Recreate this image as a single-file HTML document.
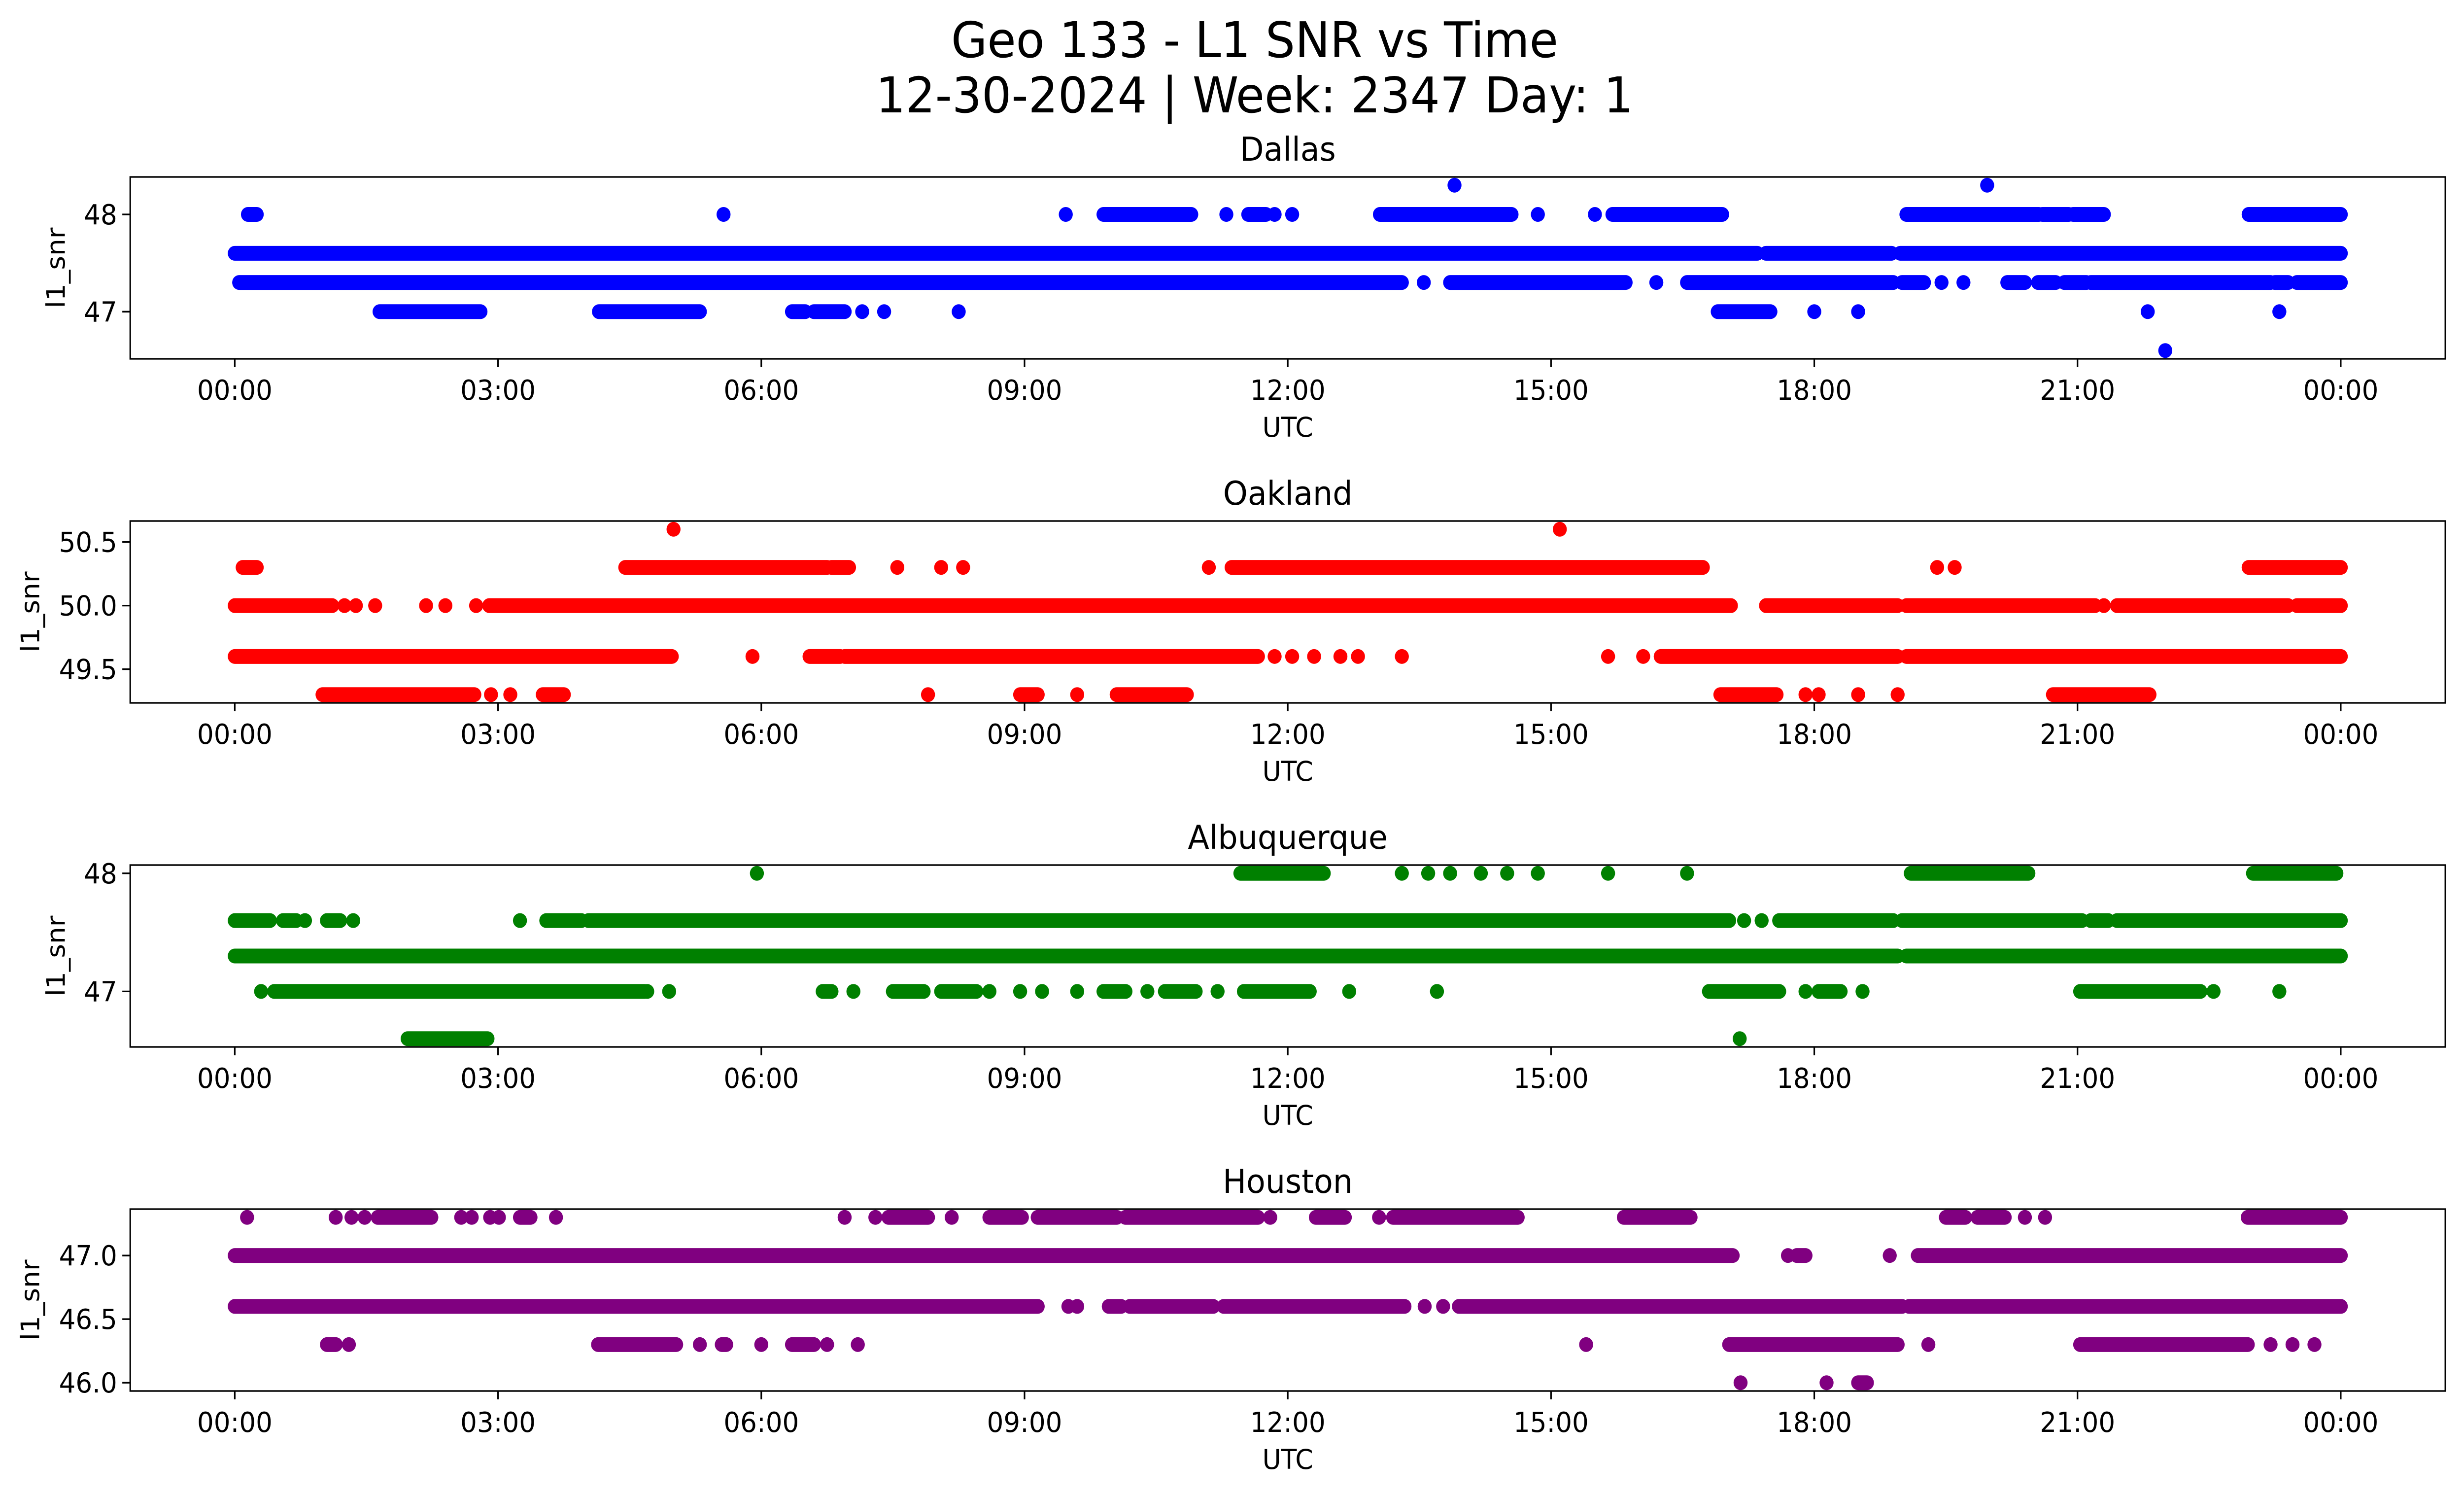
<!DOCTYPE html>
<html><head><meta charset="utf-8"><title>Geo 133 - L1 SNR vs Time</title>
<style>html,body{margin:0;padding:0;background:#fff;overflow:hidden;width:100%;height:100%}svg{display:block;width:100vw;height:100vh}text{font-family:"DejaVu Sans","Liberation Sans",sans-serif;fill:#000}</style>
</head><body>
<svg id="fig" viewBox="0 0 5279 3033" preserveAspectRatio="none" xmlns="http://www.w3.org/2000/svg">
<rect width="5279" height="3033" fill="#fff"/>
<text x="2688" y="116" font-size="100" text-anchor="middle">Geo 133 - L1 SNR vs Time</text>
<text x="2688" y="228" font-size="100" text-anchor="middle">12-30-2024 | Week: 2347 Day: 1</text>
</svg>
<script>
// x tick labels (hours)
const xTickHours = [0,3,6,9,12,15,18,21,24];
const xTickLabels = ["00:00","03:00","06:00","09:00","12:00","15:00","18:00","21:00","00:00"];
// panel definitions
const stationNames = ["Dallas","Oakland","Albuquerque","Houston"];
const stationColors = ["#0000ff","#ff0000","#008000","#800080"];
const yTicksDallas = [47,48];
const yTicksOakland = [49.5,50.0,50.5];
const yTicksAlbuquerque = [47,48];
const yTicksHouston = [46.0,46.5,47.0];
const yTickDigits = [0,1,0,1];
// Each series: level value + runs of time (hours) [start,end] or single time
const dallasLevels = [48.3,48.0,47.6,47.3,47.0,46.6];
const dallasRuns = [
 [13.9,19.97],
 [[0.15,0.25],5.57,9.47,[9.9,10.9],11.3,[11.55,11.75],11.85,12.05,[13.05,14.55],14.85,15.5,[15.7,16.95],[19.05,20.56],[20.6,20.9],[20.95,21.3],[22.95,24]],
 [[0,17.35],[17.45,18.88],[18.98,24]],
 [[0.05,13.3],13.55,[13.85,15.85],16.2,[16.55,18.9],[19.0,19.25],19.45,19.7,[20.2,20.4],[20.55,20.75],[20.85,21.1],[21.15,23.2],[23.25,23.4],[23.5,24]],
 [[1.65,2.8],[4.15,5.3],[6.35,6.5],[6.6,6.95],7.15,7.4,8.25,[16.9,17.5],18.0,18.5,21.8,23.3],
 [22.0]
];
const oaklandLevels = [50.6,50.3,50.0,49.6,49.3];
const oaklandRuns = [
 [5.0,15.1],
 [[0.09,0.25],[4.45,6.75],[6.8,7.0],7.55,8.05,8.3,11.1,[11.36,16.73],19.4,19.6,[22.95,24]],
 [[0,1.11],1.25,1.38,1.6,2.18,2.4,2.75,[2.9,17.05],[17.45,18.95],[19.05,21.2],21.3,[21.45,23.4],[23.5,24]],
 [[0,4.98],5.9,[6.55,6.9],[6.95,11.66],11.85,12.05,12.3,12.6,12.8,13.3,15.65,16.05,[16.25,18.95],[19.05,24]],
 [[1.0,2.73],2.92,3.14,[3.51,3.75],7.9,[8.95,9.15],9.6,[10.05,10.85],[16.93,17.57],17.9,18.05,18.5,18.95,[20.72,21.82]]
];
const albuquerqueLevels = [48.0,47.6,47.3,47.0,46.6];
const albuquerqueRuns = [
 [5.95,[11.46,12.41],13.3,13.6,13.85,14.2,14.5,14.85,15.65,16.55,[19.1,20.44],[23.0,23.95]],
 [[0,0.4],[0.55,0.7],0.8,[1.05,1.2],1.35,3.25,[3.55,3.95],[4.03,17.03],17.2,17.4,[17.6,18.9],[19.0,21.05],[21.15,21.35],[21.45,24]],
 [[0,18.95],[19.05,24]],
 [0.3,[0.45,4.67],4.7,4.95,[6.7,6.8],7.05,[7.5,7.85],[8.05,8.45],8.6,8.95,9.2,9.6,[9.9,10.15],10.4,[10.6,10.95],11.2,[11.5,12.25],12.7,13.7,[16.8,17.6],17.9,[18.05,18.3],18.55,[21.03,22.4],22.55,23.3],
 [[1.97,2.88],17.15]
];
const houstonLevels = [47.3,47.0,46.6,46.3,46.0];
const houstonRuns = [
 [0.14,1.15,1.33,1.48,[1.63,2.24],2.58,2.7,2.91,3.01,[3.25,3.37],3.66,6.95,7.3,[7.45,7.9],8.17,[8.6,8.97],[9.15,10.05],[10.15,11.66],11.8,[12.32,12.65],13.04,[13.2,14.62],[15.83,16.59],[19.5,19.72],[19.86,20.17],20.4,20.63,[22.94,24]],
 [[0,17.07],17.7,[17.8,17.9],18.86,[19.18,24]],
 [[0,9.15],9.5,9.6,[9.96,10.1],[10.2,11.15],[11.27,13.33],13.56,13.77,[13.95,19.0],[19.08,24]],
 [[1.05,1.15],1.3,[4.14,5.03],5.3,[5.55,5.6],6.0,[6.35,6.6],6.75,7.1,15.4,[17.03,18.95],19.3,[21.03,22.94],23.2,23.45,23.7],
 [17.16,18.14,[18.5,18.6]]
];
const allLevels = [dallasLevels,oaklandLevels,albuquerqueLevels,houstonLevels];
const allRuns = [dallasRuns,oaklandRuns,albuquerqueRuns,houstonRuns];
const allYTicks = [yTicksDallas,yTicksOakland,yTicksAlbuquerque,yTicksHouston];

const NS="http://www.w3.org/2000/svg";
const svg=document.getElementById('fig');
const L=279,R=5239,H=369,TOP0=359,STEP=698,X0=503,PXH=188.0,MS=30;
function xs(h){return X0+h*PXH;}
function mk(tag,attrs,parent){const e=document.createElementNS(NS,tag);for(const k in attrs)e.setAttribute(k,attrs[k]);(parent||svg).appendChild(e);return e;}

for(let p=0;p<4;p++){
  const top=TOP0+p*STEP,bot=top+H;
  const levels=allLevels[p],runs=allRuns[p];
  const vmin=Math.min(...levels),vmax=Math.max(...levels),r=vmax-vmin;
  const ymin=vmin-0.05*r,ymax=vmax+0.05*r;
  const ys=v=>top+(ymax-v)/(ymax-ymin)*H;
  const slug=stationNames[p].toLowerCase();
  const g=mk('g',{});
  
  
  const t=mk('text',{x:(L+R)/2,y:top-33,'font-size':67,'text-anchor':'middle'},g);
  t.textContent=stationNames[p];
  
  
  const pts=mk('g',{stroke:stationColors[p],'stroke-width':MS,'stroke-linecap':'round',fill:'none'},g);
  
  
  levels.forEach((lv,i)=>{
    runs[i].forEach(run=>{
      const a=Array.isArray(run)?run[0]:run,b=Array.isArray(run)?run[1]:run;
      const y=ys(lv);
      const ln=mk('line',{x1:xs(a),y1:y,x2:xs(b)+0.01,y2:y},pts);
      
      
    });
  });
  const fr=mk('rect',{x:L,y:top,width:R-L,height:H,fill:'none',stroke:'#000','stroke-width':3.3},g);
  
  
  xTickHours.forEach((h,i)=>{
    const x=xs(h);
    const tk=mk('line',{x1:x,y1:bot,x2:x,y2:bot+17,stroke:'#000','stroke-width':3.3},g);
    
    
    const tl=mk('text',{x:x,y:bot+83,'font-size':56,'text-anchor':'middle'},g);
    tl.textContent=xTickLabels[i];
    
    
  });
  const xl=mk('text',{x:(L+R)/2,y:bot+158,'font-size':55,'text-anchor':'middle'},g);
  xl.textContent='UTC';
  
  
  allYTicks[p].forEach(v=>{
    const y=ys(v);
    const tk=mk('line',{x1:L-17,y1:y,x2:L,y2:y,stroke:'#000','stroke-width':3.3},g);
    
    
    const tl=mk('text',{x:L-28,y:y+20,'font-size':56,'text-anchor':'end'},g);
    tl.textContent=v.toFixed(yTickDigits[p]);
    
    
  });
  const yx=yTickDigits[p]?65:120, yc=top+H/2;
  const yl=mk('text',{x:yx,y:yc,'font-size':55,'text-anchor':'middle','dominant-baseline':'central',transform:`rotate(-90 ${yx} ${yc})`},g);
  yl.textContent='l1_snr';
  
  
}
</script>
</body></html>
